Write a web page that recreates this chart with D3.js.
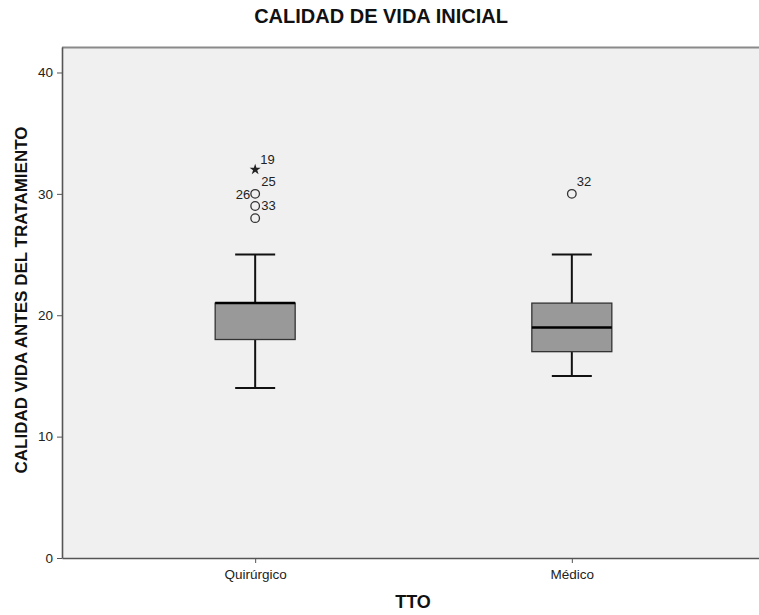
<!DOCTYPE html>
<html>
<head>
<meta charset="utf-8">
<script src="https://cdn.jsdelivr.net/npm/d3@7"></script>
<style>
  body { margin: 0; background: #fff; }
  svg { display: block; font-family: "Liberation Sans", Arial, sans-serif; }
</style>
</head>
<body>
<svg id="chart" width="759" height="615"></svg>
<script>
// box plot values per treatment group
const groups = ["Quirúrgico", "Médico"];
const lowWhisker = [14, 15];
const q1 = [18, 17];
const median = [21, 19];
const q3 = [21, 21];
const highWhisker = [25, 25];

// outliers: group, value, kind, case labels (with offsets from the mark)
const outliers = [
  { g: "Quirúrgico", v: 32, kind: "extreme", labels: [{ t: "19", dx: 5, dy: -6 }] },
  { g: "Quirúrgico", v: 30, kind: "circle", labels: [{ t: "25", dx: 6, dy: -8 }, { t: "26", dx: -5, dy: 5, end: true }] },
  { g: "Quirúrgico", v: 29, kind: "circle", labels: [{ t: "33", dx: 6, dy: 4 }] },
  { g: "Quirúrgico", v: 28, kind: "circle", labels: [] },
  { g: "Médico", v: 30, kind: "circle", labels: [{ t: "32", dx: 5, dy: -8 }] }
];

const yTicks = [0, 10, 20, 30, 40];

const svg = d3.select("#chart");
const plotL = 62, plotR = 765, plotT = 47, plotB = 558;

const x = d3.scalePoint().domain(groups).range([plotL, plotR]).padding(0.61);
const y = d3.scaleLinear().domain([0, 42.1]).range([plotB, plotT]);

// plot background
svg.append("rect")
  .attr("x", plotL).attr("y", plotT)
  .attr("width", plotR - plotL).attr("height", plotB - plotT)
  .attr("fill", "#f0f0f0");

svg.append("line")
  .attr("x1", plotL).attr("x2", plotR)
  .attr("y1", plotT + 0.5).attr("y2", plotT + 0.5)
  .attr("stroke", "#8a8a8a").attr("stroke-width", 2);

// y axis
const yAxis = svg.append("g")
  .attr("transform", `translate(${plotL},0)`)
  .call(d3.axisLeft(y).tickValues(yTicks).tickSize(5).tickSizeOuter(0).tickPadding(4));
yAxis.select(".domain").attr("stroke", "#555").attr("stroke-width", 1.6);
yAxis.selectAll(".tick line").attr("stroke", "#555");
yAxis.selectAll(".tick text").attr("font-size", 13.5).attr("fill", "#222")
  .attr("font-family", "Liberation Sans, Arial, sans-serif");

// x axis
const xAxis = svg.append("g")
  .attr("transform", `translate(0,${plotB})`)
  .call(d3.axisBottom(x).tickSize(5).tickSizeOuter(0).tickPadding(6));
xAxis.select(".domain").attr("stroke", "#555").attr("stroke-width", 1.6);
xAxis.selectAll(".tick line").attr("stroke", "#555");
xAxis.selectAll(".tick text").attr("font-size", 13.5).attr("fill", "#222")
  .attr("font-family", "Liberation Sans, Arial, sans-serif");

// boxes
const boxW = 80, capW = 40;
groups.forEach((g, i) => {
  const cx = x(g);
  const grp = svg.append("g");
  // whiskers
  grp.append("line").attr("x1", cx).attr("x2", cx)
    .attr("y1", y(q3[i])).attr("y2", y(highWhisker[i]))
    .attr("stroke", "#111").attr("stroke-width", 2);
  grp.append("line").attr("x1", cx).attr("x2", cx)
    .attr("y1", y(q1[i])).attr("y2", y(lowWhisker[i]))
    .attr("stroke", "#111").attr("stroke-width", 2);
  [highWhisker[i], lowWhisker[i]].forEach(v => {
    grp.append("line").attr("x1", cx - capW / 2).attr("x2", cx + capW / 2)
      .attr("y1", y(v)).attr("y2", y(v))
      .attr("stroke", "#111").attr("stroke-width", 2);
  });
  grp.append("rect")
    .attr("x", cx - boxW / 2).attr("y", y(q3[i]))
    .attr("width", boxW).attr("height", y(q1[i]) - y(q3[i]))
    .attr("fill", "#999").attr("stroke", "#333").attr("stroke-width", 1.3);
  grp.append("line").attr("x1", cx - boxW / 2).attr("x2", cx + boxW / 2)
    .attr("y1", y(median[i])).attr("y2", y(median[i]))
    .attr("stroke", "#000").attr("stroke-width", 2.5);
});

// outliers
const star = d3.symbol().type(d3.symbolStar).size(38);
outliers.forEach(o => {
  const cx = x(o.g), cy = y(o.v);
  if (o.kind === "extreme") {
    svg.append("path").attr("d", star()).attr("transform", `translate(${cx},${cy})`)
      .attr("fill", "#222");
  } else {
    svg.append("circle").attr("cx", cx).attr("cy", cy).attr("r", 4.3)
      .attr("fill", "none").attr("stroke", "#333").attr("stroke-width", 1.3);
  }
  o.labels.forEach(l => {
    svg.append("text").text(l.t)
      .attr("x", cx + l.dx).attr("y", cy + l.dy)
      .attr("text-anchor", l.end ? "end" : "start")
      .attr("font-size", 13).attr("fill", "#222");
  });
});

// titles
svg.append("text").text("CALIDAD DE VIDA INICIAL")
  .attr("x", 381).attr("y", 23).attr("text-anchor", "middle")
  .attr("font-size", 20).attr("font-weight", "bold").attr("fill", "#111");

svg.append("text").text("TTO")
  .attr("x", 413).attr("y", 608).attr("text-anchor", "middle")
  .attr("font-size", 18).attr("font-weight", "bold").attr("fill", "#111");

svg.append("text").text("CALIDAD VIDA ANTES DEL TRATAMIENTO")
  .attr("transform", `translate(27,300) rotate(-90)`)
  .attr("text-anchor", "middle")
  .attr("font-size", 17).attr("font-weight", "bold").attr("fill", "#111");
</script>
</body>
</html>
